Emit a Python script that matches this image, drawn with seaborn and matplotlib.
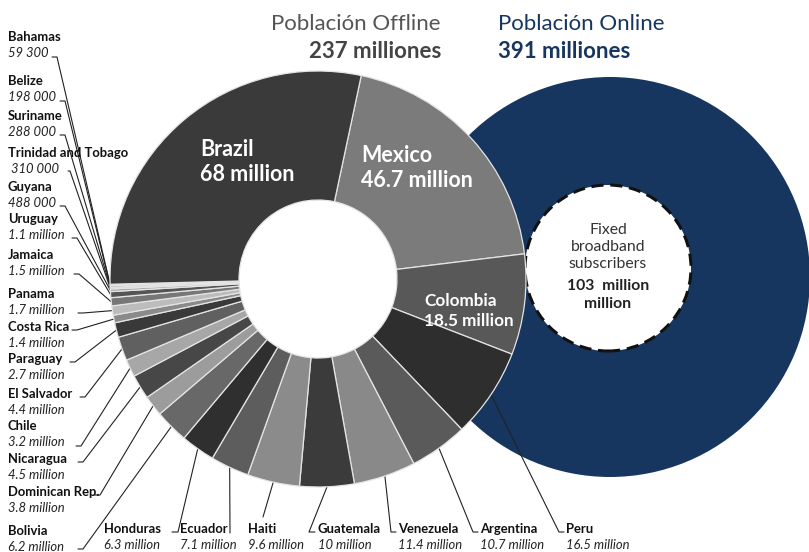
import numpy as np
import seaborn as sns
import matplotlib
matplotlib.use("Agg")
import matplotlib.pyplot as plt
from matplotlib.patches import Circle

# Offline population by country, clockwise from the top (Mexico) round to Brazil
countries = ["Mexico", "Colombia", "Peru", "Argentina", "Venezuela", "Guatemala",
             "Haiti", "Ecuador", "Honduras", "Bolivia", "Dominican Rep.", "Nicaragua",
             "Chile", "El Salvador", "Paraguay", "Costa Rica", "Panama", "Jamaica",
             "Uruguay", "Guyana", "Trinidad and Tobago", "Suriname", "Belize",
             "Bahamas", "Brazil"]
offline_millions = [46.7, 18.5, 16.5, 10.7, 11.4, 10.0, 9.6, 7.1, 6.3, 6.2, 3.8, 4.5,
                    3.2, 4.4, 2.7, 1.4, 1.7, 1.5, 1.1, 0.488, 0.31, 0.288, 0.198,
                    0.0593, 68.0]
value_labels = ["46.7 million", "18.5 million", "16.5 million", "10.7 million",
                "11.4 million", "10 million", "9.6 million", "7.1 million",
                "6.3 million", "6.2 million", "3.8 million", "4.5 million",
                "3.2 million", "4.4 million", "2.7 million", "1.4 million",
                "1.7 million", "1.5 million", "1.1 million", "488 000", "310 000",
                "288 000", "198 000", "59 300", "68 million"]

offline_total = "237 milliones"
online_total = "391 milliones"
broadband = "103  million\nmillion"

# grey shades per slice (same order as countries)
grays = ["#7b7b7b", "#585858", "#2e2e2e", "#5a5a5a", "#898989", "#3b3b3b",
         "#8b8b8b", "#5d5d5d", "#2f2f2f", "#686868", "#9c9c9c", "#474747",
         "#a7a7a7", "#606060", "#393939", "#8a8a8a", "#bcbcbc", "#777777",
         "#555555", "#aaaaaa", "#cccccc", "#888888", "#bbbbbb", "#999999",
         "#3a3a3a"]

W, H = 809, 552


def Y(py):
    # picture rows run downwards, axes y runs upwards
    return H - py


sns.set_theme(style="white")
plt.rcParams["font.family"] = ["Lato", "DejaVu Sans"]

fig = plt.figure(figsize=(W / 100, H / 100), dpi=100)
ax = fig.add_axes([0, 0, 1, 1])

# online population: navy disc with dashed white core
navy = "#17365f"
ax.add_patch(Circle((610, Y(277)), 200, facecolor=navy, edgecolor="none", zorder=1))
ax.add_patch(Circle((608, Y(268)), 83, facecolor="white", edgecolor="#111111",
                    linewidth=2.2, linestyle=(0, (4, 2.2)), zorder=2))

cx, cy, r_out, r_in = 318, Y(279), 208, 79
start = 78
wedges, _ = ax.pie(offline_millions, colors=grays, startangle=start, counterclock=False,
                   radius=r_out, center=(cx, cy),
                   wedgeprops=dict(width=r_out - r_in, edgecolor="#e4e4e4", linewidth=0.9))
for w in wedges:
    w.set_zorder(3)

ax.set_xlim(0, W)
ax.set_ylim(0, H)
ax.set_aspect("equal")
ax.axis("off")

# mid angle of each wedge, for leader lines
vals = np.array(offline_millions)
cum = np.cumsum(vals) - vals / 2
mid_deg = start - cum / vals.sum() * 360

# label layout: (name x, name y, line start, elbow)
left = {
    "Bahamas": (8, 37, (52, 57), (57, 57)),
    "Belize": (8, 81, (60, 101), (65, 101)),
    "Suriname": (8, 116, (60, 135), (65, 135)),
    "Trinidad and Tobago": (8, 153, (68, 171), (70, 171)),
    "Guyana": (8, 187, (60, 206), (65, 206)),
    "Uruguay": (8, 219, (72, 238), (77, 238)),
    "Jamaica": (8, 255, (74, 274), (79, 274)),
    "Panama": (8, 294, (78, 313), (83, 313)),
    "Costa Rica": (8, 327, (72, 330), (77, 330)),
    "Paraguay": (8, 359, (70, 362), (75, 362)),
    "El Salvador": (8, 394, (80, 397), (85, 397)),
    "Chile": (8, 426, (76, 446), (81, 446)),
    "Nicaragua": (8, 459, (78, 462), (83, 462)),
    "Dominican Rep.": (8, 492, (95, 495), (100, 495)),
    "Bolivia": (8, 531, (78, 549), (83, 549)),
    "Honduras": (104, 529, (172, 532), (178, 532)),
    "Ecuador": (180, 529, (230, 533), (230, 533)),
    "Haiti": (248, 529, (263, 517), (263, 517)),
    "Guatemala": (318, 529, (315, 532), (309, 532)),
    "Venezuela": (398, 529, (396, 532), (391, 532)),
    "Argentina": (480, 529, (478, 532), (473, 532)),
    "Peru": (566, 529, (564, 532), (559, 532)),
}

for i, name in enumerate(countries):
    if name not in left:
        continue
    x, y, p0, p1 = left[name]
    dx = 3 if name == "Trinidad and Tobago" else 0
    ax.text(x, Y(y), name, fontsize=9.4, fontweight="bold", color="#111111",
            ha="left", va="center", zorder=5)
    ax.text(x + dx, Y(y + 16), value_labels[i], fontsize=9.4, style="italic",
            color="#222222", ha="left", va="center", zorder=5)
    a = np.deg2rad(mid_deg[i])
    ex, ey = cx + r_out * np.cos(a), cy + r_out * np.sin(a)
    ax.plot([p0[0], p1[0], ex], [Y(p0[1]), Y(p1[1]), ey], color="#222222",
            linewidth=0.8, zorder=2.5)

# labels inside the big slices
ax.text(200, Y(162), "Brazil\n68 million", fontsize=15.5, fontweight="bold",
        color="white", ha="left", va="center", multialignment="left",
        linespacing=1.2, zorder=5)
ax.text(361, Y(168), "Mexico\n46.7 million", fontsize=15.5, fontweight="bold",
        color="white", ha="left", va="center", multialignment="left",
        linespacing=1.2, zorder=5)
ax.text(424, Y(311), "Colombia\n18.5 million", fontsize=12.3, fontweight="bold",
        color="white", ha="left", va="center", multialignment="left",
        linespacing=1.3, zorder=5)

# headers
ax.text(441, Y(24), "Población Offline", fontsize=16, color="#555555",
        ha="right", va="center")
ax.text(441, Y(52), offline_total, fontsize=16, fontweight="bold", color="#444444",
        ha="right", va="center")
ax.text(498, Y(24), "Población Online", fontsize=16, color=navy,
        ha="left", va="center")
ax.text(498, Y(52), online_total, fontsize=16, fontweight="bold", color=navy,
        ha="left", va="center")

# broadband core
ax.text(608, Y(247), "Fixed\nbroadband\nsubscribers", fontsize=11.3, color="#333333",
        ha="center", va="center", linespacing=1.3, zorder=4)
ax.text(608, Y(295), broadband, fontsize=11.3, fontweight="bold", color="#222222",
        ha="center", va="center", linespacing=1.3, zorder=4)

fig.savefig("out.png", dpi=100)
